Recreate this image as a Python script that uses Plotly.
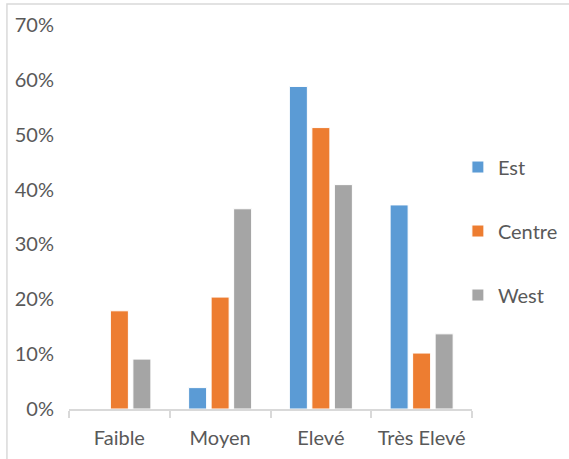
import plotly.graph_objects as go

categories = ["Faible", "Moyen", "Elevé", "Très Elevé"]
est = [0, 3.9, 58.8, 37.2]
centre = [17.9, 20.4, 51.3, 10.2]
west = [9.1, 36.5, 40.9, 13.7]

series = [("Est", est, "#5b9bd5"), ("Centre", centre, "#ed7d31"), ("West", west, "#a5a5a5")]

FONT = "Lato"
TXT = "#595959"
GRID = "#d9d9d9"

fig = go.Figure()
for name, vals, color in series:
    fig.add_trace(go.Bar(
        x=categories, y=vals, name=name, legendgroup=name,
        marker=dict(color=color, line=dict(color="white", width=1)),
    ))

fig.update_layout(
    width=569, height=459,
    margin=dict(l=69, r=97, t=25, b=50, autoexpand=False),
    paper_bgcolor="white", plot_bgcolor="white",
    barmode="group", bargap=0.33, bargroupgap=0.2,
    font=dict(family=FONT, size=20, color=TXT),
    showlegend=True,
    legend=dict(x=0.965, xanchor="left", y=0.4635, yanchor="middle",
                tracegroupgap=35, font=dict(size=20, color=TXT),
                bgcolor="rgba(0,0,0,0)"),
    xaxis=dict(showline=True, linecolor=GRID, linewidth=1.5,
               ticks="outside", tickson="boundaries", ticklen=7,
               tickcolor=GRID, tickwidth=1.5, showgrid=False,
               ticklabelstandoff=10,
               tickfont=dict(size=20, color=TXT)),
    yaxis=dict(range=[0, 70], dtick=10, ticksuffix="%", showgrid=False,
               zeroline=False, showline=False, ticks="",
               ticklabelstandoff=14, tickfont=dict(size=20, color=TXT)),
    shapes=[dict(type="rect", xref="paper", yref="paper",
                 x0=-0.154, x1=1.6, y0=-0.5, y1=1.0547,
                 line=dict(color=GRID, width=1.5), layer="below")],
)

fig.write_html("out.html")
